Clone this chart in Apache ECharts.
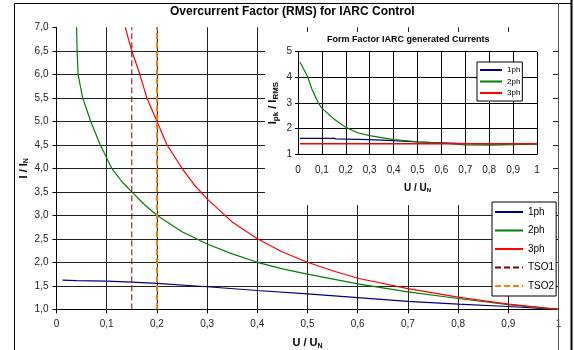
<!DOCTYPE html>
<html>
<head>
<meta charset="utf-8">
<script src="https://cdn.jsdelivr.net/npm/echarts@6/dist/echarts.min.js"></script>
<style>
  html, body {margin: 0; padding: 0; background: #fff;}
  #chart {width: 574px; height: 350px;}
</style>
</head>
<body>
<div id="chart"></div>
<script>
// main chart: I / IN over U / UN
const u1ph = [0.012, 0.04, 0.1, 0.15, 0.2, 0.3, 0.4, 0.5, 0.6, 0.7, 0.8, 0.9, 1.0];
const i1ph = [1.62, 1.61, 1.6, 1.58, 1.55, 1.48, 1.4, 1.33, 1.25, 1.17, 1.11, 1.06, 1.0];
const u2ph = [0.04, 0.041, 0.043, 0.052, 0.068, 0.087, 0.11, 0.13, 0.15, 0.175, 0.2, 0.25, 0.3, 0.35, 0.4, 0.45, 0.5, 0.6, 0.7, 0.8, 0.9, 1.0];
const i2ph = [7.0, 6.5, 6.0, 5.5, 5.0, 4.5, 4.0, 3.72, 3.5, 3.23, 3.0, 2.65, 2.39, 2.18, 2.0, 1.86, 1.75, 1.54, 1.37, 1.23, 1.1, 1.0];
const u3ph = [0.137, 0.15, 0.166, 0.18, 0.2, 0.22, 0.25, 0.275, 0.3, 0.35, 0.4, 0.45, 0.5, 0.55, 0.6, 0.7, 0.8, 0.9, 1.0];
const i3ph = [7.0, 6.5, 6.0, 5.5, 5.0, 4.5, 4.0, 3.64, 3.35, 2.86, 2.5, 2.22, 2.0, 1.82, 1.66, 1.44, 1.26, 1.11, 1.0];
const tso1 = 0.15;
const tso2 = 0.2;
const tsoRange = [1.0, 7.0];

// inset: form factor Ipk / IRMS
const uFf = [0.008, 0.04, 0.057, 0.085, 0.1, 0.15, 0.2, 0.25, 0.3, 0.4, 0.5, 0.6, 0.7, 0.8, 0.9, 1.0];
const ff2ph = [4.6, 4.03, 3.57, 3.0, 2.8, 2.38, 2.05, 1.84, 1.73, 1.57, 1.49, 1.44, 1.37, 1.36, 1.38, 1.41];
const uFf1 = [0.008, 0.15, 0.16, 0.3, 0.4, 0.5, 0.6, 0.7, 0.8, 1.0];
const ff1ph = [1.62, 1.62, 1.6, 1.57, 1.53, 1.48, 1.45, 1.42, 1.41, 1.41];
const uFf3 = [0.008, 1.0];
const ff3ph = [1.41, 1.41];

const names = ['1ph', '2ph', '3ph', 'TSO1', 'TSO2'];
const colors = {'1ph': '#000080', '2ph': '#008000', '3ph': '#ff0000', TSO1: '#800000', TSO2: '#ff7f00'};

const pairs = (xs, ys) => xs.map((x, i) => [x, ys[i]]);
const comma = (v, d) => (v === 0 || v === 1) ? String(v) : v.toFixed(d).replace('.', ',');
const font = 'Liberation Sans, Arial, sans-serif';
const sub = (size, pad) => ({fontSize: size, fontWeight: 'bold', fontFamily: font, lineHeight: size, padding: [pad, 0, 0, 0], color: '#000'});
const curve = {type: 'line', symbol: 'none'};

const chart = echarts.init(document.getElementById('chart'), null, {renderer: 'canvas'});

chart.setOption({
  backgroundColor: '#fff',
  animation: false,
  textStyle: {fontFamily: font},
  title: [{
    text: 'Overcurrent Factor (RMS) for IARC Control',
    left: 170, top: 6, padding: 0,
    textStyle: {fontSize: 12, fontWeight: 'bold', color: '#000', fontFamily: font}
  }, {
    text: 'Form Factor IARC generated Currents',
    left: 327, top: 35, padding: 0, z: 10,
    textStyle: {fontSize: 9, fontWeight: 'bold', color: '#000', fontFamily: font}
  }],
  graphic: [
    {type: 'rect', shape: {x: 14.5, y: 3.5, width: 557, height: 360}, style: {fill: 'none', stroke: '#000', lineWidth: 1}, z: 1},
    {type: 'line', shape: {x1: 571.5, y1: 0, x2: 571.5, y2: 350}, style: {stroke: '#000', lineWidth: 2}, z: 1},
    {type: 'line', shape: {x1: 558.5, y1: 3, x2: 558.5, y2: 350}, style: {stroke: '#555', lineWidth: 1}, z: 1},
    {type: 'rect', shape: {x: 265, y: 32, width: 288, height: 173}, style: {fill: '#fff'}, z: 3}
  ],
  legend: [{
    data: names,
    orient: 'vertical',
    left: 492, top: 202,
    itemWidth: 28, itemHeight: 10, itemGap: 8.5,
    padding: [5, 2, 5, 2],
    backgroundColor: '#fff',
    borderColor: '#000', borderWidth: 1, borderRadius: 0,
    itemStyle: {opacity: 0},
    textStyle: {fontSize: 10, color: '#000', fontFamily: font},
    z: 10
  }, {
    data: ['1ph', '2ph', '3ph'],
    orient: 'vertical',
    left: 477, top: 62,
    itemWidth: 22, itemHeight: 8, itemGap: 3.5,
    padding: [4, 2, 4, 2],
    backgroundColor: '#fff',
    borderColor: '#000', borderWidth: 1, borderRadius: 0,
    itemStyle: {opacity: 0},
    textStyle: {fontSize: 8, color: '#000', fontFamily: font},
    z: 10
  }],
  grid: [
    {left: 56.5, right: 15.5, top: 27.3, bottom: 40.7, outerBoundsMode: 'none'},
    {left: 298, right: 37, top: 51.7, bottom: 195.7, outerBoundsMode: 'none'}
  ],
  xAxis: [{
    type: 'value', gridIndex: 0, min: 0, max: 1, interval: 0.1,
    name: 'U / U{s|N}', nameLocation: 'middle', nameGap: 27, nameMoveOverlap: false,
    nameTextStyle: {fontSize: 11, fontWeight: 'bold', color: '#000', lineHeight: 14, rich: {s: sub(7, 6)}},
    axisLine: {show: true, onZero: false, lineStyle: {color: '#000', width: 1}},
    axisTick: {show: true, length: 4, lineStyle: {color: '#000'}},
    axisLabel: {fontSize: 10, color: '#222', margin: 10, formatter: v => comma(v, 1)},
    splitLine: {show: true, lineStyle: {color: '#222', width: 1}}
  }, {
    type: 'value', gridIndex: 1, min: 0, max: 1, interval: 0.1, z: 5,
    name: 'U / U{s|N}', nameLocation: 'middle', nameGap: 28, nameMoveOverlap: false,
    nameTextStyle: {fontSize: 10, fontWeight: 'bold', color: '#000', lineHeight: 12, rich: {s: sub(6, 5)}},
    axisLine: {show: true, onZero: false, lineStyle: {color: '#000', width: 1}},
    axisTick: {show: false},
    axisLabel: {fontSize: 10, color: '#222', margin: 11, formatter: v => comma(v, 1)},
    splitLine: {show: true, lineStyle: {color: '#000', width: 1}}
  }],
  yAxis: [{
    type: 'value', gridIndex: 0, min: 1, max: 7, interval: 0.5,
    name: 'I / I{s|N}', nameLocation: 'middle', nameGap: 26, nameRotate: 90, nameMoveOverlap: false,
    nameTextStyle: {fontSize: 11, fontWeight: 'bold', color: '#000', lineHeight: 14, rich: {s: sub(7, 6)}},
    axisLine: {show: true, onZero: false, lineStyle: {color: '#000', width: 1}},
    axisTick: {show: true, length: 4, lineStyle: {color: '#000'}},
    axisLabel: {fontSize: 10, color: '#222', margin: 8, formatter: v => v.toFixed(1).replace('.', ',')},
    splitLine: {show: true, showMaxLine: false, lineStyle: {color: '#222', width: 1}}
  }, {
    type: 'value', gridIndex: 1, min: 1, max: 5, interval: 1, z: 5,
    name: 'I{s|pk} / I{s|RMS}', nameLocation: 'middle', nameGap: 18, nameRotate: 90, nameMoveOverlap: false,
    nameTextStyle: {fontSize: 11, fontWeight: 'bold', color: '#000', lineHeight: 14, rich: {s: sub(8, 6)}},
    axisLine: {show: true, onZero: false, lineStyle: {color: '#000', width: 1}},
    axisTick: {show: true, length: 3, lineStyle: {color: '#000'}},
    axisLabel: {fontSize: 10, color: '#222', margin: 6},
    splitLine: {show: true, lineStyle: {color: '#000', width: 1}}
  }],
  series: [
    {...curve, name: '1ph', xAxisIndex: 0, yAxisIndex: 0, data: pairs(u1ph, i1ph), color: colors['1ph'], lineStyle: {width: 1.2}},
    {...curve, name: '2ph', xAxisIndex: 0, yAxisIndex: 0, data: pairs(u2ph, i2ph), color: colors['2ph'], lineStyle: {width: 1.2}},
    {...curve, name: '3ph', xAxisIndex: 0, yAxisIndex: 0, data: pairs(u3ph, i3ph), color: colors['3ph'], lineStyle: {width: 1.2}},
    {...curve, name: 'TSO1', xAxisIndex: 0, yAxisIndex: 0, data: pairs([tso1, tso1], tsoRange), color: colors.TSO1, lineStyle: {width: 1, type: [6, 3]}},
    {...curve, name: 'TSO2', xAxisIndex: 0, yAxisIndex: 0, data: pairs([tso2, tso2], tsoRange), color: colors.TSO2, lineStyle: {width: 2, type: [6, 3]}},
    {...curve, name: '1ph', xAxisIndex: 1, yAxisIndex: 1, data: pairs(uFf1, ff1ph), color: colors['1ph'], lineStyle: {width: 1.2}, z: 6},
    {...curve, name: '2ph', xAxisIndex: 1, yAxisIndex: 1, data: pairs(uFf, ff2ph), color: colors['2ph'], lineStyle: {width: 1.2}, z: 6},
    {...curve, name: '3ph', xAxisIndex: 1, yAxisIndex: 1, data: pairs(uFf3, ff3ph), color: colors['3ph'], lineStyle: {width: 1.5}, z: 7}
  ]
});
</script>
</body>
</html>
